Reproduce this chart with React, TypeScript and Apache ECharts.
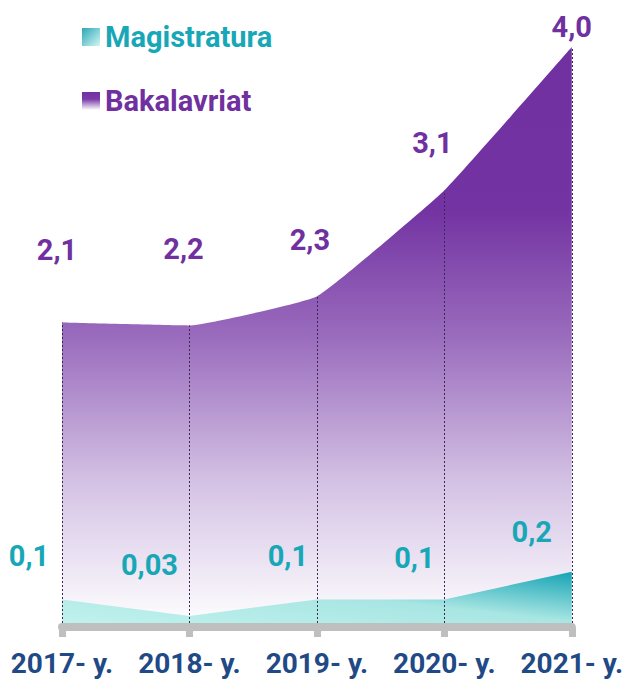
import React, { useEffect, useRef } from "react";
import * as echarts from "echarts";

const categories = ["2017- y.", "2018- y.", "2019- y.", "2020- y.", "2021- y."];
// Heights
const bakalavriat = [2.1, 2.08, 2.28, 3.01, 4.0];
const magistratura = [0.1, 0.04, 0.1, 0.1, 0.2];
// Printed labels
const bakalavriatLabels = ["2,1", "2,2", "2,3", "3,1", "4,0"];
const magistraturaLabels = ["0,1", "0,03", "0,1", "0,1", "0,2"];

const PURPLE = "#7030a0";
const TEAL = "#17a7b7";
const NAVY = "#1f4a86";
const FONT = "Roboto, 'Noto Sans', sans-serif";

const bakOffsets = [[-5, -73], [-6, -76], [-7, -56], [-12, -48], [0, -20]];
const magOffsets = [[-33, -43], [-40, -51], [-29, -43], [-30, -41], [-40, -40]];

export default function App() {
  const ref = useRef<HTMLDivElement>(null);
  useEffect(() => {
    if (!ref.current) return;
    const chart = echarts.init(ref.current, null, { renderer: "svg" });
    const purpleGrad = new echarts.graphic.LinearGradient(0, 0, 0, 1, [
      { offset: 0, color: "#7030a0" },
      { offset: 0.28, color: "#7333a2" },
      { offset: 0.5, color: "#9a6cbd" },
      { offset: 0.75, color: "#d4c2e4" },
      { offset: 1, color: "#ffffff" },
    ]);
    const tealGrad = new echarts.graphic.LinearGradient(0, 1, 1, 0, [
      { offset: 0, color: "#c2f2ee" },
      { offset: 0.55, color: "#a8e6e3" },
      { offset: 1, color: "#15a3b4" },
    ]);
    const labelBase = {
      show: true,
      position: "inside" as const,
      fontFamily: FONT,
      fontSize: 29,
      fontWeight: "bold" as const,
      align: "center" as const,
      verticalAlign: "middle" as const,
    };
    chart.setOption({
      animation: false,
      grid: { left: 62, right: 52, top: 47, bottom: 54, containLabel: false },
      legend: {
        orient: "vertical",
        left: 77,
        top: 17,
        padding: 5,
        itemWidth: 18,
        itemHeight: 18,
        itemGap: 34,
        selectedMode: false,
        textStyle: { fontFamily: FONT, fontSize: 29, fontWeight: "bold", lineHeight: 30, padding: [0, 0, 0, 0] },
        data: [
          {
            name: "Magistratura",
            icon: "rect",
            itemStyle: {
              color: new echarts.graphic.LinearGradient(0, 0, 1, 1, [
                { offset: 0, color: "#2aa7b6" },
                { offset: 1, color: "#d3f7f3" },
              ]),
            },
            textStyle: { color: TEAL },
          },
          {
            name: "Bakalavriat",
            icon: "rect",
            itemStyle: {
              color: new echarts.graphic.LinearGradient(0, 0, 0, 1, [
                { offset: 0, color: PURPLE },
                { offset: 0.4, color: "#7a3ba8" },
                { offset: 1, color: "#ffffff" },
              ]),
            },
            textStyle: { color: PURPLE },
          },
        ],
      },
      xAxis: {
        type: "category",
        data: categories,
        boundaryGap: false,
        axisLine: { lineStyle: { color: "#bfbfbf", width: 8 } },
        axisTick: { show: true, length: 10, lineStyle: { color: "#bfbfbf", width: 7 } },
        axisLabel: {
          interval: 0,
          margin: 22,
          fontFamily: FONT,
          fontSize: 28,
          fontWeight: "bold",
          color: NAVY,
        },
        splitLine: { show: false },
        z: 5,
      },
      yAxis: [
        { type: "value", min: 0, max: 4, show: false, splitLine: { show: false } },
        { type: "value", min: 0, max: 2.1, show: false, splitLine: { show: false } },
      ],
      series: [
        {
          name: "Bakalavriat",
          type: "line",
          yAxisIndex: 0,
          data: bakalavriat.map((v, i) => ({
            value: v,
            label: { offset: bakOffsets[i] },
          })),
          smooth: 0.1,
          symbol: "circle",
          symbolSize: 1,
          showSymbol: true,
          itemStyle: { color: "rgba(0,0,0,0)" },
          lineStyle: { width: 0 },
          areaStyle: { color: purpleGrad, opacity: 1 },
          label: {
            ...labelBase,
            color: PURPLE,
            formatter: (p: any) => bakalavriatLabels[p.dataIndex],
          },
          z: 2,
        },
        {
          name: "Magistratura",
          type: "line",
          yAxisIndex: 1,
          data: magistratura.map((v, i) => ({
            value: v,
            label: { offset: magOffsets[i] },
          })),
          symbol: "circle",
          symbolSize: 1,
          showSymbol: true,
          itemStyle: { color: "rgba(0,0,0,0)" },
          lineStyle: { width: 0 },
          areaStyle: { color: tealGrad, opacity: 1 },
          label: {
            ...labelBase,
            color: TEAL,
            formatter: (p: any) => magistraturaLabels[p.dataIndex],
          },
          z: 3,
        },
        {
          name: "drops",
          type: "line",
          yAxisIndex: 0,
          data: bakalavriat,
          symbol: "none",
          lineStyle: { width: 0, opacity: 0 },
          silent: true,
          z: 4,
          markLine: {
            silent: true,
            symbol: "none",
            label: { show: false },
            lineStyle: { color: "#3b2a4e", width: 1, type: [2, 2] },
            data: bakalavriat.map((v, i) => [
              { coord: [i, 0] },
              { coord: [i, v] },
            ]),
          },
        },
      ],
    });
    return () => chart.dispose();
  }, []);
  return (
    <div
      ref={ref}
      style={{ position: "fixed", left: 0, top: 0, width: 626, height: 681, background: "#ffffff" }}
    />
  );
}
